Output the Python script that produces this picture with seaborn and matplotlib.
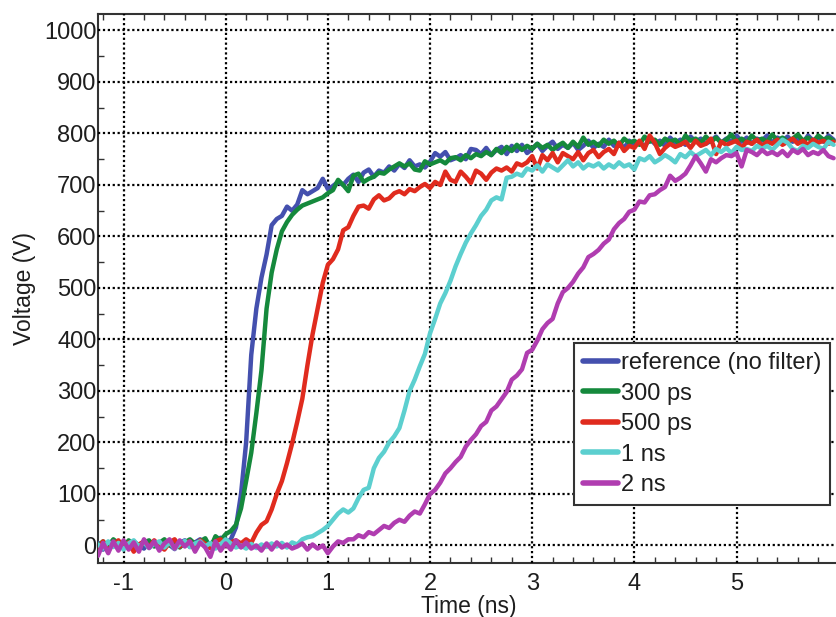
import numpy as np
import pandas as pd
import matplotlib
matplotlib.use("Agg")
import matplotlib.pyplot as plt
from matplotlib.ticker import MultipleLocator, FixedLocator
import seaborn as sns

# Sample times (ns), 50 ps step
time_ns = np.round(np.arange(-1.25, 5.951, 0.05), 2)

series_labels = ["reference (no filter)", "300 ps", "500 ps", "1 ns", "2 ns"]
series_colors = ["#4450ae", "#15893c", "#e02b1e", "#5ccfcf", "#b03db0"]
x_tick_values = [-1, 0, 1, 2, 3, 4, 5]

v_reference = [
    5, -8, 3, 10, -2, 6, -5, 8, 0, -6,
    7, 2, -4, 9, 1, -7, 5, 10, -3, 6,
    12, -2, 4, 8, 15, 5, 12, 35, 100, 200,
    370, 460, 520, 565, 622, 634, 640, 658, 650, 662,
    690, 682, 688, 694, 712, 692, 698, 706, 700, 712,
    720, 706, 724, 730, 716, 728, 724, 736, 728, 741,
    733, 748, 736, 740, 734, 745, 762, 755, 764, 748,
    752, 758, 750, 770, 768, 760, 772, 758, 768, 774,
    760, 776, 766, 778, 762, 770, 780, 766, 776, 784,
    770, 778, 772, 782, 768, 776, 786, 772, 780, 774,
    788, 776, 782, 772, 786, 778, 784, 774, 790, 780,
    786, 776, 792, 782, 788, 778, 794, 784, 790, 780,
    786, 794, 782, 790, 784, 796, 784, 792, 780, 790,
    786, 796, 782, 792, 786, 794, 784, 790, 782, 796,
    786, 792, 784, 796, 788,
]

v_300ps = [
    0, 8, -5, 12, 4, -3, 10, 2, -6, 6,
    10, -2, 5, 12, 0, 8, -4, 6, 12, 3,
    8, 14, -5, 18, 10, 22, 28, 40, 72, 125,
    180, 257, 340, 460, 530, 575, 610, 628, 642, 652,
    660, 664, 668, 672, 676, 684, 690, 710, 700, 688,
    718, 722, 706, 712, 716, 724, 722, 730, 736, 742,
    736, 742, 730, 728, 746, 740, 744, 748, 742, 752,
    754, 748, 758, 752, 760, 756, 764, 758, 770, 762,
    774, 766, 778, 768, 776, 770, 780, 772, 778, 768,
    776, 782, 772, 784, 774, 792, 778, 784, 776, 788,
    780, 786, 776, 790, 782, 786, 778, 794, 784, 788,
    778, 790, 784, 788, 778, 796, 786, 790, 782, 794,
    784, 792, 782, 788, 798, 784, 790, 782, 796, 786,
    790, 784, 798, 786, 792, 784, 790, 798, 786, 792,
    784, 796, 788, 792, 786,
]

v_500ps = [
    -5, 8, -10, 3, 10, -4, 6, -12, 2, 8,
    -3, 10, 0, -8, 6, 12, -2, 5, 8, -6,
    10, 3, -5, 8, 12, 0, 6, 10, 4, 12,
    5, 25, 40, 47, 70, 100, 125, 160, 198, 240,
    285, 350, 410, 460, 510, 545, 556, 575, 612, 618,
    640, 658, 660, 654, 672, 680, 670, 674, 684, 688,
    682, 692, 688, 696, 702, 694, 706, 700, 726, 710,
    706, 726, 716, 704, 728, 722, 710, 724, 732, 728,
    734, 726, 742, 738, 744, 756, 732, 758, 748, 762,
    744, 762, 756, 750, 764, 748, 762, 768, 754, 764,
    770, 760, 782, 766, 776, 772, 786, 770, 796, 782,
    760, 772, 780, 774, 778, 784, 772, 786, 776, 780,
    790, 760, 784, 778, 782, 786, 772, 784, 780, 788,
    776, 784, 780, 788, 778, 784, 790, 780, 786, 778,
    788, 782, 786, 780, 784,
]

v_1ns = [
    2, -6, 8, -3, 5, -8, 4, 10, -2, 6,
    -5, 3, 8, -4, 6, -6, 2, 9, -3, 4,
    8, -2, 5, -6, 2, 12, 4, -4, 0, -6,
    3, -5, 2, -3, 4, -2, 5, -4, 6, 2,
    12, 16, 18, 24, 30, 38, 50, 62, 70, 64,
    72, 92, 108, 112, 150, 170, 182, 200, 212, 228,
    262, 300, 322, 348, 372, 412, 440, 470, 490, 514,
    542, 566, 588, 606, 622, 640, 652, 670, 676, 672,
    714, 716, 722, 718, 732, 728, 738, 726, 740, 734,
    728, 738, 748, 736, 744, 732, 740, 736, 742, 732,
    740, 734, 744, 736, 740, 730, 752, 748, 756, 744,
    750, 758, 752, 744, 760, 754, 764, 756, 762, 768,
    758, 770, 764, 772, 762, 774, 768, 770, 766, 776,
    770, 776, 768, 778, 788, 782, 770, 766, 776, 772,
    780, 774, 770, 784, 778,
]

v_2ns = [
    -20, 5, -15, 8, -10, 10, -8, 6, -12, 12,
    -5, 8, -10, 4, 12, -6, 10, -2, 8, -12,
    6, -4, -22, 8, -10, 4, -8, 10, -4, 6,
    -6, 0, -10, 4, -8, 6, -4, 2, -6, -2,
    4, -8, 2, -6, 0, -15, -2, 8, 5, 12,
    12, 20, 16, 26, 22, 30, 38, 34, 44, 50,
    46, 58, 66, 62, 80, 100, 108, 122, 140, 150,
    162, 172, 192, 205, 216, 232, 240, 262, 270, 284,
    298, 322, 330, 342, 374, 380, 398, 420, 432, 440,
    470, 492, 500, 512, 528, 540, 560, 566, 574, 586,
    594, 614, 626, 634, 648, 652, 668, 666, 680, 682,
    690, 696, 718, 708, 714, 722, 738, 756, 742, 726,
    750, 744, 752, 758, 756, 762, 736, 768, 764, 758,
    768, 760, 764, 758, 766, 756, 768, 762, 770, 758,
    764, 760, 768, 756, 752,
]

series_values = [v_reference, v_300ps, v_500ps, v_1ns, v_2ns]

frames = []
for label, values in zip(series_labels, series_values):
    frames.append(pd.DataFrame({"Time": time_ns, "Voltage": values, "Filter": label}))
df = pd.concat(frames, ignore_index=True)

sns.set_style("ticks")
plt.rcParams["font.family"] = ["Liberation Sans", "DejaVu Sans"]
plt.rcParams["axes.unicode_minus"] = False
text_color = "#1e1e1e"

fig = plt.figure(figsize=(8.37, 6.17), dpi=100)
ax = fig.add_axes([98 / 837, 1 - 563 / 617, 1 - 98 / 837 + 0.002, (563 - 14) / 617])

sns.lineplot(
    data=df, x="Time", y="Voltage", hue="Filter", hue_order=series_labels,
    palette=series_colors, linewidth=3.2, errorbar=None, ax=ax,
)

ax.set_xlim(-1.25, 6.0)
ax.set_ylim(-34, 1032)
ax.xaxis.set_major_locator(FixedLocator(x_tick_values))
ax.xaxis.set_minor_locator(MultipleLocator(0.2))
ax.yaxis.set_major_locator(MultipleLocator(100))
ax.yaxis.set_minor_locator(MultipleLocator(50))

ax.grid(True, which="major", color="black", linestyle=(0, (1, 1.2)), linewidth=1.6)
ax.set_axisbelow(False)
for line in ax.get_lines():
    line.set_zorder(3)

ax.tick_params(axis="both", which="both", direction="in", top=True, right=False,
               colors="#333333", labelcolor=text_color, labelsize=17)
ax.tick_params(axis="both", which="major", length=0)
ax.tick_params(axis="both", which="minor", length=4, width=1)
ax.tick_params(axis="y", which="major", pad=1)
ax.tick_params(axis="x", which="major", pad=7)

for side in ("left", "bottom", "top"):
    ax.spines[side].set_color("#333333")
    ax.spines[side].set_linewidth(1.5)
ax.spines["right"].set_visible(False)

ax.set_xlabel("Time (ns)", fontsize=16.5, color=text_color, labelpad=0)
ax.set_ylabel("Voltage (V)", fontsize=16.5, color=text_color, labelpad=6)

leg = ax.legend(
    loc="lower right", bbox_to_anchor=(830 / 837, 1 - 505 / 617),
    bbox_transform=fig.transFigure, borderaxespad=0, fontsize=17,
    handlelength=1.5, handletextpad=0.1, labelspacing=0.36,
    borderpad=0.38, fancybox=False, framealpha=1, title=None,
)
leg.get_frame().set_edgecolor("#333333")
leg.get_frame().set_linewidth(1.5)
for text in leg.get_texts():
    text.set_color(text_color)
for handle in leg.legend_handles:
    handle.set_linewidth(4)

fig.savefig("out.png", dpi=100)
